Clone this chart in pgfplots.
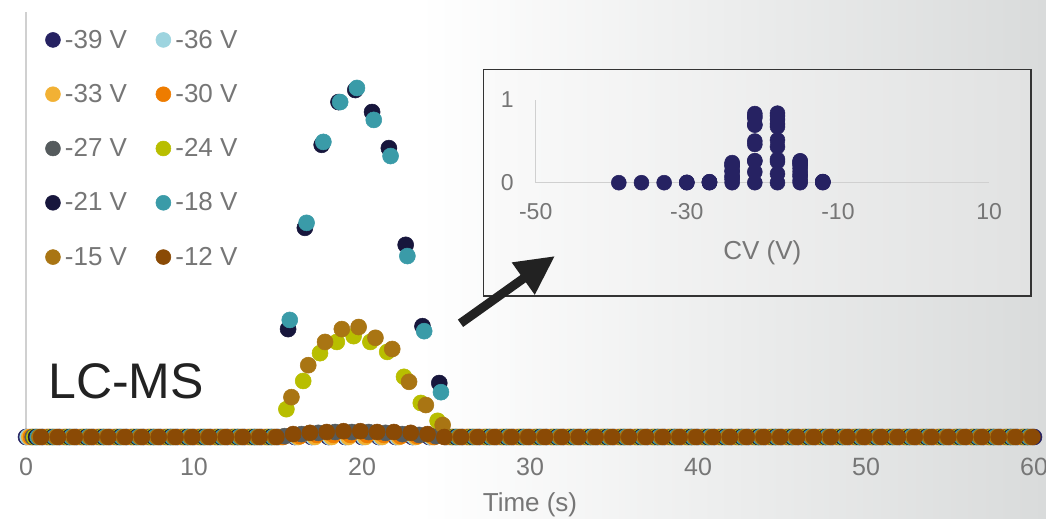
\documentclass[border=0pt]{standalone}
\usepackage{fontspec}
\setmainfont{Liberation Sans}
\usepackage{pgfplots}
\usepackage{pgfplotstable}
\pgfplotsset{compat=1.18}
\usetikzlibrary{arrows.meta}

\definecolor{c39}{HTML}{262262}
\definecolor{c36}{HTML}{9DD4DF}
\definecolor{c33}{HTML}{F2B134}
\definecolor{c30}{HTML}{EE7C00}
\definecolor{c27}{HTML}{555B5D}
\definecolor{c24}{HTML}{B8BE00}
\definecolor{c21}{HTML}{17163C}
\definecolor{c18}{HTML}{3A9BA8}
\definecolor{c15}{HTML}{A97513}
\definecolor{c12}{HTML}{8A4A05}
\definecolor{labgray}{HTML}{767676}
\definecolor{axisgray}{HTML}{D0D0D0}
\definecolor{bgR}{HTML}{D9DBDB}
\definecolor{insL}{HTML}{FAFAFA}
\definecolor{insR}{HTML}{E1E2E2}
\definecolor{boxc}{HTML}{333333}
\definecolor{arrowc}{HTML}{222222}

\pgfdeclarehorizontalshading{bgshade}{100bp}{color(0bp)=(white); color(25bp)=(white); color(45bp)=(white); color(75bp)=(bgR); color(100bp)=(bgR)}

% k = time step (s); series for CV value V are acquired at k + offset (0.1 s per CV step)
\pgfplotstableread{
k a39 a36 a33 a30 a27 a24 a21 a18 a15 a12
0 0 0 0 0 0 0 0 0 0 0
1 0 0 0 0 0 0 0 0 0 0
2 0 0 0 0 0 0 0 0 0 0
3 0 0 0 0 0 0 0 0 0 0
4 0 0 0 0 0 0 0 0 0 0
5 0 0 0 0 0 0 0 0 0 0
6 0 0 0 0 0 0 0 0 0 0
7 0 0 0 0 0 0 0 0 0 0
8 0 0 0 0 0 0 0 0 0 0
9 0 0 0 0 0 0 0 0 0 0
10 0 0 0 0 0 0 0 0 0 0
11 0 0 0 0 0 0 0 0 0 0
12 0 0 0 0 0 0 0 0 0 0
13 0 0 0 0 0 0 0 0 0 0
14 0 0 0 0 0 0 0 0 0 0
15 0 0 0 0 0.002 0.067 0.260 0.282 0.096 0.007
16 0 0 0 0.002 0.007 0.135 0.504 0.516 0.173 0.010
17 0 0 0 0.005 0.010 0.202 0.704 0.711 0.229 0.012
18 0 0 0 0.005 0.012 0.229 0.807 0.807 0.260 0.014
19 0 0 0 0.005 0.012 0.243 0.836 0.841 0.265 0.014
20 0 0 0 0.005 0.012 0.229 0.783 0.764 0.239 0.012
21 0 0 0 0.005 0.010 0.205 0.696 0.677 0.212 0.012
22 0 0 0 0.002 0.007 0.145 0.463 0.436 0.133 0.010
23 0 0 0 0.002 0.005 0.082 0.267 0.255 0.077 0.007
24 0 0 0 0 0.002 0.039 0.130 0.108 0.029 0
25 0 0 0 0 0 0 0 0 0 0
26 0 0 0 0 0 0 0 0 0 0
27 0 0 0 0 0 0 0 0 0 0
28 0 0 0 0 0 0 0 0 0 0
29 0 0 0 0 0 0 0 0 0 0
30 0 0 0 0 0 0 0 0 0 0
31 0 0 0 0 0 0 0 0 0 0
32 0 0 0 0 0 0 0 0 0 0
33 0 0 0 0 0 0 0 0 0 0
34 0 0 0 0 0 0 0 0 0 0
35 0 0 0 0 0 0 0 0 0 0
36 0 0 0 0 0 0 0 0 0 0
37 0 0 0 0 0 0 0 0 0 0
38 0 0 0 0 0 0 0 0 0 0
39 0 0 0 0 0 0 0 0 0 0
40 0 0 0 0 0 0 0 0 0 0
41 0 0 0 0 0 0 0 0 0 0
42 0 0 0 0 0 0 0 0 0 0
43 0 0 0 0 0 0 0 0 0 0
44 0 0 0 0 0 0 0 0 0 0
45 0 0 0 0 0 0 0 0 0 0
46 0 0 0 0 0 0 0 0 0 0
47 0 0 0 0 0 0 0 0 0 0
48 0 0 0 0 0 0 0 0 0 0
49 0 0 0 0 0 0 0 0 0 0
50 0 0 0 0 0 0 0 0 0 0
51 0 0 0 0 0 0 0 0 0 0
52 0 0 0 0 0 0 0 0 0 0
53 0 0 0 0 0 0 0 0 0 0
54 0 0 0 0 0 0 0 0 0 0
55 0 0 0 0 0 0 0 0 0 0
56 0 0 0 0 0 0 0 0 0 0
57 0 0 0 0 0 0 0 0 0 0
58 0 0 0 0 0 0 0 0 0 0
59 0 0 0 0 0 0 0 0 0 0
60 0 nan nan nan nan nan nan nan nan nan
}\ivdata

\pgfplotsset{
  dot/.style={only marks, mark=*, mark size=6pt, mark options={draw=none},
    legend image code/.code={\draw[##1, mark size=5.6pt] plot coordinates {(5.6pt,0pt)};}},
}

\begin{document}
\begin{tikzpicture}[x=0.75pt, y=0.75pt]
\path[use as bounding box] (0,0) rectangle (1046,518);
\shade[shading=bgshade] (0,0) rectangle (1046,518);

\begin{axis}[
  at={(19.5pt,60.75pt)}, anchor=south west, scale only axis,
  width=756pt, height=318.75pt,
  xmin=0, xmax=60, ymin=0, ymax=1.024,
  clip=false,
  axis x line=bottom, axis y line=left,
  x axis line style={draw=none, -},
  y axis line style={draw=axisgray, line width=1.1pt, -},
  xtick={0,10,20,30,40,50,60},
  xticklabels={0,10,20,30,40,50,60},
  ytick=\empty,
  major tick length=0pt,
  xticklabel style={font=\fontsize{18.75pt}{22pt}\selectfont, text=labgray, inner sep=0pt, anchor=north, yshift=-15.5pt},
  legend columns=2, legend cell align=left,
  legend style={at={(0.01935,0.958)}, anchor=north west, draw=none, fill=none,
    inner sep=0pt, outer sep=0pt, row sep=25.6pt, column sep=3.4pt,
    font=\fontsize{19.5pt}{22pt}\selectfont,
    nodes={inner sep=0pt, text=labgray},
    /tikz/every even column/.append style={column sep=21.6pt}},
]
\addplot[dot, color=c39] table[x expr=\thisrow{k}, y=a39] {\ivdata};
\addlegendentry{-39 V}
\addplot[dot, color=c36] table[x expr=\thisrow{k}+0.1, y=a36] {\ivdata};
\addlegendentry{-36 V}
\addplot[dot, color=c33] table[x expr=\thisrow{k}+0.2, y=a33] {\ivdata};
\addlegendentry{-33 V}
\addplot[dot, color=c30] table[x expr=\thisrow{k}+0.3, y=a30] {\ivdata};
\addlegendentry{-30 V}
\addplot[dot, color=c27] table[x expr=\thisrow{k}+0.4, y=a27] {\ivdata};
\addlegendentry{-27 V}
\addplot[dot, color=c24] table[x expr=\thisrow{k}+0.5, y=a24] {\ivdata};
\addlegendentry{-24 V}
\addplot[dot, color=c21] table[x expr=\thisrow{k}+0.6, y=a21] {\ivdata};
\addlegendentry{-21 V}
\addplot[dot, color=c18] table[x expr=\thisrow{k}+0.7, y=a18] {\ivdata};
\addlegendentry{-18 V}
\addplot[dot, color=c15] table[x expr=\thisrow{k}+0.8, y=a15] {\ivdata};
\addlegendentry{-15 V}
\addplot[dot, color=c12] table[x expr=\thisrow{k}+0.9, y=a12] {\ivdata};
\addlegendentry{-12 V}
\end{axis}

\node[anchor=base west, inner sep=0pt, font=\fontsize{37.5pt}{40pt}\selectfont, text=arrowc] at (48,119.7) {LC-MS};
\node[anchor=base, inner sep=0pt, font=\fontsize{19.5pt}{22pt}\selectfont, text=labgray] at (530,6.5) {Time (s)};

% inset
\draw[draw=boxc, line width=1.1pt, left color=insL, right color=insR] (483.5,448.5) rectangle (1031,222);
\begin{axis}[
  at={(401.775pt,251.475pt)}, anchor=south west, scale only axis,
  width=340pt, height=62pt,
  xmin=-50, xmax=10, ymin=0, ymax=1,
  clip=false,
  axis x line=bottom, axis y line=left,
  axis line style={draw=axisgray, line width=1.1pt, -},
  xtick={-50,-30,-10,10}, xticklabels={-50,-30,-10,10},
  ytick={0,1}, yticklabels={0,1},
  major tick length=0pt,
  xticklabel style={font=\fontsize{17.25pt}{20pt}\selectfont, text=labgray, inner sep=0pt, anchor=north, yshift=-15.5pt},
  yticklabel style={font=\fontsize{17.25pt}{20pt}\selectfont, text=labgray, inner sep=0pt, anchor=east, xshift=-16.3pt},
]
\addplot[only marks, mark=*, mark size=5.6pt, mark options={draw=none}, color=c39] coordinates {
(-39,0) (-36,0) (-33,0)
(-30,0) (-30,0.002) (-30,0.005)
(-27,0) (-27,0.002) (-27,0.005) (-27,0.007) (-27,0.010) (-27,0.012)
(-24,0) (-24,0.039) (-24,0.067) (-24,0.082) (-24,0.135) (-24,0.145) (-24,0.202) (-24,0.205) (-24,0.229) (-24,0.243)
(-21,0) (-21,0.130) (-21,0.260) (-21,0.267) (-21,0.463) (-21,0.504) (-21,0.696) (-21,0.704) (-21,0.783) (-21,0.807) (-21,0.836)
(-18,0) (-18,0.108) (-18,0.255) (-18,0.282) (-18,0.436) (-18,0.516) (-18,0.677) (-18,0.711) (-18,0.764) (-18,0.807) (-18,0.841)
(-15,0) (-15,0.029) (-15,0.077) (-15,0.096) (-15,0.133) (-15,0.173) (-15,0.212) (-15,0.229) (-15,0.239) (-15,0.260) (-15,0.265)
(-12,0) (-12,0.007) (-12,0.010) (-12,0.012) (-12,0.014)
};
\end{axis}
\node[anchor=base, inner sep=0pt, font=\fontsize{19.5pt}{22pt}\selectfont, text=labgray] at (762.4,258) {CV (V)};

\draw[line width=6.75pt, draw=arrowc, -{Triangle[length=29.25pt, width=27.75pt]}] (460.5,194.7) -- (555,262);
\end{tikzpicture}
\end{document}
